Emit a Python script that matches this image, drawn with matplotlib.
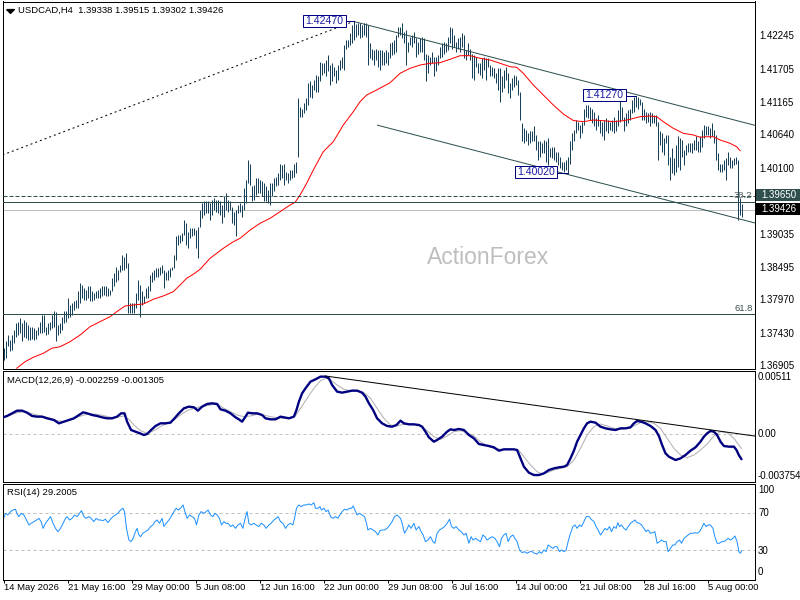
import matplotlib
matplotlib.use("Agg")
import matplotlib.pyplot as plt
from matplotlib.patches import Rectangle
from matplotlib import transforms

# ---------------- data ----------------
highs = [
    1.3718, 1.3729, 1.3740, 1.3732, 1.3740, 1.3748, 1.3759, 1.3761, 1.3767, 1.3759,
    1.3764, 1.3761, 1.3756, 1.3753, 1.3753, 1.3751, 1.3748, 1.3753, 1.3761, 1.3772,
    1.3772, 1.3753, 1.3759, 1.3761, 1.3772, 1.3778, 1.3776, 1.3756, 1.3759, 1.3769,
    1.3778, 1.3778, 1.3799, 1.3788, 1.3791, 1.3794, 1.3796, 1.3810, 1.3823, 1.3821,
    1.3815, 1.3813, 1.3818, 1.3818, 1.3810, 1.3807, 1.3810, 1.3813, 1.3815, 1.3818,
    1.3818, 1.3818, 1.3815, 1.3813, 1.3831, 1.3840, 1.3850, 1.3845, 1.3853, 1.3869,
    1.3866, 1.3872, 1.3856, 1.3791, 1.3791, 1.3791, 1.3807, 1.3829, 1.3821, 1.3810,
    1.3802, 1.3815, 1.3818, 1.3837, 1.3842, 1.3845, 1.3848, 1.3848, 1.3849, 1.3853,
    1.3845, 1.3842, 1.3845, 1.3848, 1.3850, 1.3869, 1.3899, 1.3902, 1.3902, 1.3904,
    1.3926, 1.3920, 1.3907, 1.3912, 1.3912, 1.3912, 1.3910, 1.3915, 1.3942, 1.3953,
    1.3956, 1.3956, 1.3956, 1.3953, 1.3958, 1.3961, 1.3958, 1.3958, 1.3956, 1.3950,
    1.3964, 1.3969, 1.3958, 1.3956, 1.3947, 1.3939, 1.3942, 1.3950, 1.3953, 1.3950,
    1.3977, 1.3990, 1.4023, 1.4017, 1.3980, 1.3982, 1.3993, 1.3993, 1.3990, 1.3988,
    1.3985, 1.3980, 1.3974, 1.3985, 1.3985, 1.3993, 1.3996, 1.4001, 1.4017, 1.4015,
    1.4017, 1.4004, 1.4001, 1.4007, 1.4007, 1.4017, 1.4020, 1.4123, 1.4109, 1.4106,
    1.4115, 1.4123, 1.4147, 1.4150, 1.4144, 1.4152, 1.4160, 1.4158, 1.4182, 1.4179,
    1.4179, 1.4185, 1.4193, 1.4177, 1.4179, 1.4174, 1.4168, 1.4177, 1.4185, 1.4190,
    1.4209, 1.4217, 1.4217, 1.4228, 1.4241, 1.4247, 1.4243, 1.4244, 1.4244, 1.4241,
    1.4244, 1.4245, 1.4241, 1.4212, 1.4203, 1.4201, 1.4203, 1.4201, 1.4201, 1.4201,
    1.4198, 1.4201, 1.4198, 1.4212, 1.4214, 1.4217, 1.4225, 1.4238, 1.4238, 1.4245,
    1.4230, 1.4233, 1.4214, 1.4222, 1.4225, 1.4230, 1.4220, 1.4214, 1.4220, 1.4222,
    1.4220, 1.4195, 1.4193, 1.4190, 1.4198, 1.4190, 1.4190, 1.4193, 1.4206, 1.4212,
    1.4214, 1.4212, 1.4222, 1.4238, 1.4236, 1.4225, 1.4214, 1.4220, 1.4222, 1.4228,
    1.4225, 1.4201, 1.4212, 1.4203, 1.4195, 1.4193, 1.4190, 1.4179, 1.4179, 1.4187,
    1.4190, 1.4187, 1.4187, 1.4177, 1.4174, 1.4171, 1.4163, 1.4171, 1.4171, 1.4158,
    1.4168, 1.4174, 1.4163, 1.4147, 1.4155, 1.4160, 1.4158, 1.4152, 1.4133, 1.4082,
    1.4074, 1.4071, 1.4066, 1.4069, 1.4069, 1.4077, 1.4063, 1.4053, 1.4053, 1.4050,
    1.4055, 1.4053, 1.4058, 1.4042, 1.4044, 1.4044, 1.4036, 1.4036, 1.4028, 1.4020,
    1.4020, 1.4023, 1.4028, 1.4053, 1.4066, 1.4071, 1.4088, 1.4085, 1.4079, 1.4085,
    1.4106, 1.4112, 1.4112, 1.4109, 1.4106, 1.4101, 1.4090, 1.4096, 1.4088, 1.4085,
    1.4088, 1.4090, 1.4088, 1.4085, 1.4088, 1.4093, 1.4088, 1.4104, 1.4123, 1.4109,
    1.4093, 1.4098, 1.4104, 1.4106, 1.4120, 1.4124, 1.4127, 1.4125, 1.4122, 1.4117,
    1.4106, 1.4101, 1.4098, 1.4101, 1.4098, 1.4096, 1.4096, 1.4085, 1.4069, 1.4066,
    1.4058, 1.4063, 1.4063, 1.4028, 1.4042, 1.4026, 1.4047, 1.4061, 1.4058, 1.4055,
    1.4039, 1.4047, 1.4050, 1.4050, 1.4050, 1.4055, 1.4061, 1.4053, 1.4061, 1.4071,
    1.4079, 1.4077, 1.4077, 1.4074, 1.4082, 1.4071, 1.4063, 1.4034, 1.4017, 1.4017,
    1.4023, 1.4026, 1.4036, 1.4028, 1.4023, 1.4026, 1.4028, 1.4023, 1.3961, 1.39515,
]
lows = [
    1.3699, 1.3702, 1.3721, 1.3713, 1.3716, 1.3726, 1.3737, 1.3740, 1.3742, 1.3729,
    1.3737, 1.3734, 1.3732, 1.3732, 1.3733, 1.3732, 1.3733, 1.3740, 1.3742, 1.3742,
    1.3745, 1.3740, 1.3741, 1.3748, 1.3751, 1.3753, 1.3729, 1.3740, 1.3742, 1.3748,
    1.3759, 1.3761, 1.3767, 1.3769, 1.3772, 1.3780, 1.3783, 1.3783, 1.3791, 1.3799,
    1.3796, 1.3796, 1.3799, 1.3794, 1.3794, 1.3796, 1.3799, 1.3799, 1.3799, 1.3802,
    1.3804, 1.3802, 1.3802, 1.3804, 1.3810, 1.3818, 1.3826, 1.3829, 1.3842, 1.3845,
    1.3845, 1.3848, 1.3775, 1.3775, 1.3775, 1.3775, 1.3783, 1.3796, 1.3769, 1.3788,
    1.3791, 1.3799, 1.3799, 1.3810, 1.3826, 1.3829, 1.3834, 1.3834, 1.3837, 1.3840,
    1.3815, 1.3829, 1.3829, 1.3834, 1.3845, 1.3848, 1.3861, 1.3885, 1.3888, 1.3891,
    1.3902, 1.3885, 1.3880, 1.3896, 1.3899, 1.3902, 1.3880, 1.3864, 1.3914, 1.3929,
    1.3934, 1.3937, 1.3937, 1.3926, 1.3934, 1.3942, 1.3939, 1.3937, 1.3934, 1.3920,
    1.3931, 1.3942, 1.3939, 1.3942, 1.3920, 1.3918, 1.3899, 1.3937, 1.3939, 1.3931,
    1.3942, 1.3953, 1.3985, 1.3982, 1.3956, 1.3958, 1.3966, 1.3969, 1.3969, 1.3964,
    1.3956, 1.3956, 1.3953, 1.3950, 1.3964, 1.3972, 1.3980, 1.3982, 1.3990, 1.3993,
    1.3982, 1.3990, 1.3985, 1.3990, 1.3993, 1.3996, 1.4001, 1.4028, 1.4093, 1.4093,
    1.4098, 1.4104, 1.4112, 1.4125, 1.4123, 1.4136, 1.4133, 1.4133, 1.4150, 1.4160,
    1.4163, 1.4158, 1.4166, 1.4144, 1.4150, 1.4158, 1.4147, 1.4152, 1.4168, 1.4171,
    1.4168, 1.4203, 1.4206, 1.4209, 1.4212, 1.4217, 1.4222, 1.4225, 1.4220, 1.4222,
    1.4225, 1.4222, 1.4177, 1.4187, 1.4185, 1.4177, 1.4185, 1.4174, 1.4168, 1.4177,
    1.4177, 1.4179, 1.4177, 1.4187, 1.4193, 1.4195, 1.4198, 1.4222, 1.4225, 1.4220,
    1.4212, 1.4177, 1.4198, 1.4209, 1.4206, 1.4212, 1.4190, 1.4195, 1.4198, 1.4198,
    1.4185, 1.4150, 1.4163, 1.4177, 1.4179, 1.4158, 1.4166, 1.4177, 1.4187, 1.4190,
    1.4195, 1.4198, 1.4201, 1.4212, 1.4203, 1.4206, 1.4198, 1.4203, 1.4198, 1.4206,
    1.4187, 1.4185, 1.4193, 1.4185, 1.4155, 1.4152, 1.4174, 1.4163, 1.4160, 1.4155,
    1.4168, 1.4152, 1.4174, 1.4158, 1.4158, 1.4155, 1.4147, 1.4136, 1.4117, 1.4133,
    1.4139, 1.4152, 1.4131, 1.4123, 1.4136, 1.4141, 1.4144, 1.4128, 1.4088, 1.4053,
    1.4050, 1.4053, 1.4047, 1.4050, 1.4053, 1.4053, 1.4039, 1.4023, 1.4028, 1.4034,
    1.4034, 1.4020, 1.4015, 1.4028, 1.4026, 1.4023, 1.4020, 1.4015, 1.4009, 1.4007,
    1.4004, 1.4007, 1.4002, 1.4017, 1.4039, 1.4053, 1.4066, 1.4071, 1.4058, 1.4066,
    1.4079, 1.4093, 1.4090, 1.4088, 1.4082, 1.4077, 1.4071, 1.4077, 1.4066, 1.4061,
    1.4055, 1.4069, 1.4066, 1.4071, 1.4069, 1.4066, 1.4069, 1.4077, 1.4085, 1.4088,
    1.4069, 1.4077, 1.4082, 1.4088, 1.4098, 1.4101, 1.4109, 1.4106, 1.4112, 1.4088,
    1.4088, 1.4082, 1.4085, 1.4077, 1.4082, 1.4082, 1.4077, 1.4023, 1.4047, 1.4036,
    1.4031, 1.4050, 1.4015, 1.3990, 1.4001, 1.3999, 1.4004, 1.4012, 1.4007, 1.4028,
    1.4015, 1.4031, 1.4036, 1.4036, 1.4034, 1.4039, 1.4039, 1.4036, 1.4036, 1.4044,
    1.4058, 1.4063, 1.4063, 1.4058, 1.4061, 1.4050, 1.4023, 1.4007, 1.4004, 1.4004,
    1.4007, 1.3990, 1.4015, 1.4009, 1.4009, 1.4015, 1.4017, 1.3926, 1.3934, 1.39302,
]

ma_idx = [6.6, 10.8, 14.9, 19.9, 24.1, 28.3, 33.3, 38.3, 43.3, 48.3,
          53.3, 56.6, 60.8, 64.9, 69.9, 74.9, 79.9, 84.9, 88.3, 91.6,
          94.9, 98.3, 103.3, 109.9, 114.9, 118.3, 123.3, 128.3, 133.3, 138.3,
          143.3, 145.8, 148.3, 151.6, 154.9, 159.9, 164.9, 169.9, 174.9, 178.3,
          181.6, 186.6, 193.3, 198.3, 203.3, 208.3, 213.3, 218.3, 223.3, 228.3,
          233.3, 238.3, 243.3, 248.3, 253.3, 256.6, 259.9, 264.9, 269.9, 274.9,
          279.9, 284.9, 289.9, 294.9, 299.9, 304.9, 309.9, 313.3, 318.3, 323.3,
          326.6, 329.9, 334.9, 339.9, 344.9, 348.3, 351.6, 354.9, 358.3, 363.3,
          366.6, 368.3]
ma_val = [1.36857, 1.36963, 1.37035, 1.37099, 1.37180, 1.37206, 1.37287, 1.37395, 1.37530, 1.37611,
          1.37692, 1.37772, 1.37865, 1.37881, 1.37897, 1.37973, 1.38027, 1.38096, 1.38205, 1.38313,
          1.38378, 1.38459, 1.38637, 1.38798, 1.38905, 1.38960, 1.39094, 1.39203, 1.39284, 1.39391,
          1.39499, 1.39543, 1.39661, 1.39850, 1.40065, 1.40362, 1.40523, 1.40794, 1.41009, 1.41171,
          1.41279, 1.41360, 1.41478, 1.41630, 1.41711, 1.41764, 1.41792, 1.41802, 1.41857, 1.41915,
          1.41915, 1.41873, 1.41845, 1.41792, 1.41737, 1.41727, 1.41630, 1.41441, 1.41279, 1.41117,
          1.40972, 1.40866, 1.40847, 1.40874, 1.40863, 1.40847, 1.40863, 1.40886, 1.40928, 1.40939,
          1.40928, 1.40847, 1.40740, 1.40659, 1.40632, 1.40595, 1.40604, 1.40604, 1.40551, 1.40497,
          1.40442, 1.40378]

macd_idx = [-0.2, 1.8, 4.3, 6.8, 9.3, 11.8, 14.3, 16.8, 19.3, 21.8,
            25.2, 27.7, 30.2, 32.7, 35.2, 37.7, 39.8, 41.8, 44.3, 46.8,
            49.3, 51.8, 54.3, 56.8, 58.8, 60.5, 61.8, 63.8, 66.0, 68.2,
            70.2, 71.8, 73.8, 76.0, 78.5, 81.0, 83.5, 85.5, 87.7, 90.2,
            92.7, 95.2, 97.2, 99.3, 101.8, 104.3, 106.8, 108.5, 111.0, 113.5,
            116.0, 117.7, 119.3, 121.0, 122.2, 124.3, 126.8, 129.3, 131.0, 133.5,
            136.0, 138.5, 140.2, 142.7, 145.2, 146.5, 147.7, 149.3, 151.0, 153.5,
            156.0, 158.5, 161.0, 162.7, 164.3, 166.8, 169.3, 171.8, 174.3, 176.8,
            179.3, 181.0, 182.7, 184.8, 186.8, 189.3, 191.8, 194.3, 196.5, 198.5,
            200.2, 202.7, 205.2, 207.7, 209.3, 211.0, 212.7, 215.2, 216.8, 219.3,
            221.8, 223.5, 225.2, 227.7, 230.2, 232.7, 235.2, 237.7, 240.2, 242.7,
            245.2, 247.7, 250.2, 252.7, 255.2, 256.8, 258.5, 260.2, 262.7, 265.2,
            267.7, 270.2, 272.7, 275.2, 277.7, 280.2, 281.8, 283.5, 285.2, 286.8,
            288.5, 290.2, 291.8, 293.5, 296.0, 298.5, 301.0, 303.5, 306.0, 308.5,
            311.0, 313.5, 315.2, 316.8, 318.8, 321.0, 323.5, 326.0, 327.7, 329.3,
            331.0, 332.7, 334.3, 336.0, 338.5, 341.0, 343.5, 346.0, 348.5, 350.2,
            351.8, 353.5, 355.2, 356.8, 358.5, 360.2, 362.7, 365.2, 366.5, 367.7,
            369.0]
macd_val = [0.001495, 0.001615, 0.001854, 0.002093, 0.002093, 0.001914, 0.001615, 0.001555, 0.001555, 0.001405,
            0.001256, 0.000957, 0.001106, 0.001256, 0.001405, 0.001704, 0.001944, 0.001854, 0.001704, 0.001615,
            0.001495, 0.001405, 0.001405, 0.001555, 0.001854, 0.001854, 0.001106, 0.000359, 0.000209, 0.00006,
            -0.00009, 0.0, 0.000359, 0.000718, 0.000957, 0.000957, 0.001017, 0.001405, 0.001854, 0.002302,
            0.002452, 0.002392, 0.002093, 0.002452, 0.002691, 0.002751, 0.002691, 0.002213, 0.002093, 0.001854,
            0.001495, 0.001316, 0.001106, 0.001555, 0.001914, 0.001854, 0.001854, 0.001704, 0.001405, 0.001316,
            0.001316, 0.001555, 0.001495, 0.001405, 0.001555, 0.002153, 0.0029, 0.003648, 0.004096, 0.004694,
            0.004904, 0.005143, 0.005143, 0.004993, 0.004395, 0.003797, 0.003708, 0.003797, 0.003887, 0.003887,
            0.003708, 0.003349, 0.002751, 0.002153, 0.001405, 0.000957, 0.000718, 0.000658, 0.000807, 0.001196,
            0.000957, 0.000867, 0.000867, 0.000807, 0.000658, 0.000209, -0.000299, -0.000688, -0.000538, -0.000239,
            0.000209, 0.000419, 0.000359, 0.000449, 0.000359, -0.00009, -0.000389, -0.000897, -0.000987, -0.001076,
            -0.001196, -0.001495, -0.001375, -0.001375, -0.001375, -0.001435, -0.002183, -0.00293, -0.003468, -0.003678,
            -0.003678, -0.003528, -0.003229, -0.00308, -0.00299, -0.00293, -0.002781, -0.002183, -0.001495, -0.000688,
            -0.00009, 0.000508, 0.000957, 0.001106, 0.001017, 0.000658, 0.000508, 0.000419, 0.000359, 0.000508,
            0.000508, 0.000598, 0.000957, 0.001166, 0.001106, 0.000957, 0.000718, 0.000359, -0.000179, -0.000987,
            -0.001734, -0.002033, -0.002183, -0.002332, -0.002183, -0.001884, -0.001495, -0.001196, -0.000688, -0.000239,
            0.00006, 0.000269, 0.000209, -0.00009, -0.000688, -0.001076, -0.001136, -0.001136, -0.001435, -0.0019,
            -0.002259]

sig_idx = [-0.2, 3.5, 6.8, 10.2, 13.5, 16.8, 20.2, 23.5, 26.8, 30.2,
           33.5, 36.8, 40.2, 43.5, 46.8, 50.2, 53.5, 56.8, 60.2, 62.7,
           65.2, 68.5, 71.8, 75.2, 78.5, 81.8, 85.2, 88.5, 91.8, 95.2,
           98.5, 101.8, 105.2, 107.7, 110.2, 113.5, 116.8, 120.2, 123.5, 126.8,
           130.2, 133.5, 136.8, 140.2, 143.5, 146.0, 148.5, 151.8, 155.2, 158.5,
           161.0, 163.5, 166.8, 170.2, 173.5, 176.8, 180.2, 183.5, 186.8, 190.2,
           193.5, 196.8, 198.5, 201.8, 205.2, 208.5, 211.8, 215.2, 218.5, 221.8,
           225.2, 228.5, 231.8, 235.2, 238.5, 241.8, 245.2, 248.5, 251.8, 255.2,
           257.7, 260.2, 263.5, 266.8, 269.3, 271.8, 275.2, 278.5, 281.8, 285.2,
           288.5, 291.8, 295.2, 298.5, 301.8, 305.2, 308.5, 311.8, 315.2, 318.5,
           321.8, 325.2, 328.5, 331.8, 335.2, 338.5, 341.8, 345.2, 348.5, 351.8,
           355.2, 358.5, 361.8, 365.2, 367.7, 369.0]
sig_val = [0.001495, 0.001704, 0.001914, 0.002003, 0.001854, 0.001704, 0.001555, 0.001405, 0.001196, 0.001106,
           0.001256, 0.001495, 0.001704, 0.001794, 0.001764, 0.001645, 0.001495, 0.001495, 0.001615, 0.001316,
           0.000807, 0.000299, 0.00006, 0.000299, 0.000658, 0.000957, 0.001256, 0.001704, 0.002093, 0.002302,
           0.002452, 0.002542, 0.002661, 0.002601, 0.002302, 0.002003, 0.001704, 0.001555, 0.001615, 0.001764,
           0.001704, 0.001555, 0.001465, 0.001405, 0.001405, 0.001615, 0.002302, 0.003199, 0.004096, 0.004784,
           0.004993, 0.004844, 0.004395, 0.004007, 0.003887, 0.003857, 0.003708, 0.003199, 0.002302, 0.001405,
           0.000807, 0.000718, 0.000807, 0.000897, 0.000867, 0.000718, 0.000299, -0.000239, -0.000478, -0.000179,
           0.000209, 0.000299, 0.00012, -0.000179, -0.000688, -0.001076, -0.001286, -0.001375, -0.001375, -0.001375,
           -0.001495, -0.002033, -0.002781, -0.003379, -0.003588, -0.003468, -0.003229, -0.00308, -0.00293, -0.002332,
           -0.001286, -0.00009, 0.000658, 0.000897, 0.000718, 0.000508, 0.000449, 0.000508, 0.000718, 0.001017,
           0.001106, 0.000957, 0.000508, -0.000389, -0.001286, -0.001884, -0.002123, -0.001884, -0.001435, -0.000897,
           -0.000179, 0.000209, 0.00012, -0.000389, -0.000987, -0.001305]

rsi_points = [
    (-0.2, 62.7), (1.0, 70.0), (2.2, 68.2), (3.5, 71.8), (4.8, 73.6), (6.0, 74.4), (6.8, 69.3), (7.7, 66.4), (8.8, 70.0), (10.2, 68.2),
    (11.5, 62.7), (12.7, 57.3), (13.8, 59.1), (15.2, 60.9), (16.5, 62.7), (17.7, 64.5), (18.8, 60.9), (19.8, 53.6), (21.0, 59.1), (22.2, 62.7),
    (23.5, 66.4), (24.8, 59.1), (26.0, 53.6), (27.2, 50.0), (28.5, 53.6), (29.8, 59.1), (31.0, 64.5), (31.8, 66.4), (33.0, 62.7), (34.3, 64.5),
    (35.5, 68.2), (36.8, 66.4), (38.0, 70.0), (39.0, 72.9), (40.2, 66.4), (41.3, 64.5), (42.7, 66.4), (43.8, 64.5), (45.2, 60.9), (46.3, 64.5),
    (47.5, 62.7), (48.5, 62.7), (49.7, 62.0), (51.0, 63.5), (52.2, 59.8), (53.5, 63.5), (54.7, 66.4), (56.0, 68.2), (57.2, 70.0), (58.5, 73.6),
    (59.7, 75.5), (60.5, 71.8), (61.5, 53.6), (62.7, 40.9), (63.8, 39.1), (64.8, 42.7), (66.0, 50.0), (66.8, 53.6), (67.7, 46.4), (68.5, 44.5),
    (69.7, 48.2), (71.0, 50.0), (72.2, 51.8), (73.5, 55.5), (74.7, 57.3), (75.7, 60.9), (76.8, 62.7), (78.0, 59.1), (79.3, 64.5), (80.2, 55.5),
    (81.3, 59.1), (82.7, 62.7), (83.8, 66.4), (85.2, 71.8), (86.3, 75.5), (87.3, 73.6), (88.5, 75.5), (89.8, 79.1), (90.7, 71.8), (91.8, 64.5),
    (93.0, 68.2), (94.3, 66.4), (95.5, 64.5), (96.5, 57.3), (97.7, 68.2), (98.8, 71.8), (100.2, 70.0), (101.3, 71.8), (102.3, 73.6), (103.5, 68.2),
    (104.7, 66.4), (105.7, 70.0), (106.8, 68.2), (108.0, 64.5), (109.0, 57.3), (110.2, 60.9), (111.3, 59.1), (112.3, 59.1), (113.5, 55.5), (114.7, 57.3),
    (116.0, 53.6), (117.2, 57.3), (118.5, 59.1), (119.7, 53.6), (120.8, 64.5), (121.8, 71.8), (122.7, 59.1), (123.8, 57.3), (125.2, 59.1), (126.3, 57.3),
    (127.7, 55.5), (128.8, 59.1), (130.2, 57.3), (131.3, 53.6), (132.7, 57.3), (133.8, 59.1), (135.2, 62.7), (136.3, 64.5), (137.3, 66.4), (138.5, 60.9),
    (139.7, 59.1), (141.0, 53.6), (142.2, 57.3), (143.5, 59.1), (144.7, 57.3), (145.5, 64.5), (146.5, 75.5), (147.7, 79.1), (148.8, 77.3), (150.2, 79.1),
    (151.3, 79.1), (152.7, 80.2), (153.8, 79.1), (155.2, 81.6), (156.0, 75.5), (157.2, 75.5), (158.2, 77.3), (159.0, 73.6), (160.2, 75.5), (161.3, 71.8),
    (162.3, 73.6), (163.5, 66.4), (164.7, 64.5), (166.0, 66.4), (167.2, 64.5), (168.2, 68.2), (169.3, 71.8), (170.5, 74.4), (171.8, 73.6), (173.0, 75.5),
    (174.0, 75.5), (174.8, 78.0), (175.7, 73.6), (176.8, 68.2), (178.0, 70.0), (179.3, 68.2), (180.5, 66.4), (181.5, 59.1), (182.2, 51.8), (183.5, 53.6),
    (184.8, 51.8), (186.0, 50.0), (187.2, 46.4), (188.2, 51.1), (189.3, 51.8), (190.5, 51.8), (191.8, 53.6), (193.2, 57.3), (194.3, 60.9), (195.5, 66.4),
    (196.8, 68.2), (198.5, 64.5), (199.3, 59.1), (200.5, 48.2), (201.5, 51.8), (202.7, 57.3), (203.8, 53.6), (205.2, 59.1), (206.3, 51.8), (207.7, 55.5),
    (208.8, 50.0), (209.8, 46.4), (211.0, 39.1), (212.2, 40.9), (213.5, 44.5), (214.7, 39.1), (215.7, 37.3), (216.8, 48.2), (218.0, 51.8), (219.3, 53.6),
    (220.5, 55.5), (221.8, 59.1), (223.0, 63.5), (224.0, 55.5), (225.2, 53.6), (226.3, 55.5), (227.7, 51.8), (228.8, 50.0), (230.2, 46.4), (231.3, 48.2),
    (232.7, 37.3), (233.8, 44.5), (234.8, 40.9), (236.0, 42.7), (237.2, 40.9), (238.5, 39.1), (239.7, 46.4), (240.7, 44.5), (241.8, 40.9), (243.0, 42.7),
    (244.3, 44.5), (245.7, 42.7), (246.8, 39.1), (248.0, 33.6), (249.0, 42.7), (250.2, 46.4), (251.3, 48.2), (252.3, 39.1), (253.5, 44.5), (254.7, 46.4),
    (255.7, 42.7), (256.8, 39.1), (258.0, 30.0), (259.3, 27.1), (260.5, 28.2), (261.8, 26.4), (263.2, 28.2), (264.3, 28.2), (265.5, 26.4), (266.8, 25.6),
    (268.0, 28.2), (269.0, 26.4), (270.2, 30.0), (271.3, 28.2), (272.3, 35.5), (273.5, 33.6), (274.7, 31.8), (275.7, 33.6), (276.8, 33.6), (278.0, 28.2),
    (279.0, 30.0), (280.2, 28.2), (281.3, 30.0), (282.3, 39.1), (283.5, 48.2), (284.7, 55.5), (285.7, 57.3), (286.8, 53.6), (288.0, 57.3), (289.0, 55.5),
    (290.2, 60.9), (291.3, 66.4), (292.7, 66.4), (293.8, 63.5), (295.2, 60.9), (296.3, 55.5), (297.3, 51.8), (298.5, 46.4), (299.7, 50.0), (300.7, 53.6),
    (301.8, 51.8), (303.0, 55.5), (304.0, 50.0), (305.2, 55.5), (306.3, 53.6), (307.2, 59.8), (308.0, 55.5), (309.0, 57.3), (310.2, 53.6), (311.3, 51.8),
    (312.3, 55.5), (313.5, 59.1), (314.7, 60.9), (315.7, 62.7), (316.8, 59.8), (318.0, 59.1), (319.0, 57.3), (320.2, 53.6), (321.3, 50.0), (322.3, 51.8),
    (323.5, 48.2), (324.7, 48.9), (325.7, 50.0), (326.8, 37.3), (328.0, 39.1), (329.0, 40.9), (330.2, 39.1), (331.3, 39.1), (332.3, 28.2), (333.5, 31.8),
    (334.7, 35.5), (335.7, 35.5), (336.8, 39.1), (338.0, 40.9), (339.0, 37.3), (340.2, 42.7), (341.3, 44.5), (342.3, 46.4), (343.5, 48.2), (344.7, 48.2),
    (345.7, 48.9), (346.8, 48.2), (348.0, 50.0), (349.0, 53.6), (350.2, 59.1), (351.3, 55.5), (352.3, 57.3), (353.5, 57.3), (354.7, 53.6), (355.7, 44.5),
    (356.8, 37.3), (358.0, 37.3), (359.0, 39.1), (360.2, 39.1), (361.3, 40.9), (362.3, 42.7), (363.5, 40.9), (364.7, 42.7), (365.7, 45.3), (366.8, 39.1),
    (367.7, 28.2), (368.5, 26.4), (369.0, 29.2),
]

price_ticks = [1.42245, 1.41705, 1.41165, 1.40640, 1.40100, 1.39035, 1.38495, 1.37970, 1.37430, 1.36905]
date_idx = [0, 32, 64, 96, 128, 160, 192, 224, 256, 288, 320, 352]
date_labels = ["14 May 2026", "21 May 16:00", "29 May 00:00", "5 Jun 08:00", "12 Jun 16:00",
               "22 Jun 00:00", "29 Jun 08:00", "6 Jul 16:00", "14 Jul 00:00", "21 Jul 08:00",
               "28 Jul 16:00", "5 Aug 00:00"]
macd_labels = [(0.00511, "0.00511"), (0.0, "0.00"), (-0.003754, "-0.003754")]
rsi_levels = [100, 70, 30, 0]
title = "USDCAD,H4  1.39338 1.39515 1.39302 1.39426"
# ------------------------------------------------------------------

FONT = ['Liberation Sans', 'DejaVu Sans']
plt.rcParams['font.family'] = FONT
FS = 6.8
BAR = '#17415A'
SLATE = '#2F4F4F'
PX = 0.72  # one pixel in points at dpi 100

W, H = 800, 600
fig = plt.figure(figsize=(8, 6), dpi=100)
fig.patch.set_facecolor('white')


def rect(x0, y0, x1, y1):
    return [x0 / W, 1 - y1 / H, (x1 - x0) / W, (y1 - y0) / H]


XL, XR = 2.5, 754.5
ax = fig.add_axes(rect(XL, 1.5, XR, 368.5))
axm = fig.add_axes(rect(XL, 370.5, XR, 481.5))
axr = fig.add_axes(rect(XL, 483.5, XR, 579.5))

for a in (ax, axm, axr):
    a.set_xlim(-0.5, 375.5)
    a.set_facecolor('white')
    for s in a.spines.values():
        s.set_linewidth(PX)
        s.set_color('black')

ax.set_ylim(1.36853, 1.42792)
axm.set_ylim(-0.004258, 0.005693)
axr.set_ylim(-2.17, 102.5)

# ---------------- main price panel ----------------
idx = list(range(len(highs)))
ax.vlines(idx, lows, highs, colors=BAR, linewidth=PX, zorder=2)
ax.plot(ma_idx, ma_val, color='#FF0000', lw=PX, zorder=3)

ax.text(242.5, 1.3865, 'ActionForex', color='#BEBEBE', fontsize=16.5,
        ha='center', va='center', zorder=0.5)

# trend / channel lines
ax.plot([-0.5, 175], [1.40308, 1.4247], color='black', lw=PX,
        linestyle=(0, (2, 3)), zorder=3)
ax.plot([175, 375.5], [1.4247, 1.4079], color=SLATE, lw=PX, zorder=3)
ax.plot([187, 375.5], [1.4079, 1.3921], color=SLATE, lw=PX, zorder=3)

# horizontal levels
ax.axhline(1.3965, color=SLATE, lw=PX, linestyle=(0, (4, 2)), zorder=3)
ax.axhline(1.39543, color=SLATE, lw=PX, zorder=3)
ax.axhline(1.39426, color='#C0C0C0', lw=PX, zorder=1.5)
ax.axhline(1.3773, color=SLATE, lw=PX, zorder=3)

tr = transforms.blended_transform_factory(ax.transAxes, ax.transData)
ax.text(0.9973, 1.3966, '38.2', transform=tr, ha='right', va='center',
        fontsize=FS, color='#4A5A5A', zorder=4)
ax.text(0.9973, 1.37824, '61.8', transform=tr, ha='right', va='center',
        fontsize=FS, color='#3C5050', zorder=4)

# swing labels
for (x0, y0, w, h, tx, ty, s, lx0, lx1, ly) in [
        (149.75, 1.42379, 21.5, 0.00195, 160.5, 1.42476, '1.42470', 171.25, 175, 1.4247),
        (289.75, 1.41182, 21.5, 0.00194, 300.5, 1.41279, '1.41270', 311.25, 316, 1.4127),
        (255.75, 1.39936, 21.0, 0.00194, 266.25, 1.40033, '1.40020', 276.75, 282, 1.4002)]:
    ax.add_patch(Rectangle((x0, y0), w, h, facecolor='white', edgecolor='#000080',
                           lw=PX, zorder=5))
    ax.text(tx, ty, s, color='#1C1CA8', fontsize=7.6, ha='center', va='center', zorder=6)
    ax.plot([lx0, lx1], [ly, ly], color='#000080', lw=PX, zorder=5)

# title
ax.text((18 - XL) / 752, (368.5 - 10.7) / 367, title, transform=ax.transAxes,
        fontsize=FS, va='center', ha='left')
ax.plot([(9.5 - XL) / 752], [(368.5 - 11) / 367], transform=ax.transAxes,
        marker=[(-1, 0.5), (1, 0.5), (0, -0.5), (-1, 0.5)], ms=5.5,
        color='black', clip_on=False)

# right price axis
ax.yaxis.tick_right()
ax.set_yticks(price_ticks)
ax.set_yticklabels([f"{v:.5f}" for v in price_ticks])
ax.tick_params(axis='y', length=0, pad=3.4, labelsize=FS + 0.2)
ax.set_xticks([])

# right side boxed labels
ax.add_patch(Rectangle((1.002, 1.39569), 0.06, 0.00184, transform=tr,
                       facecolor=SLATE, edgecolor='none', clip_on=False, zorder=5))
ax.text(1.0093, 1.39661, '1.39650', transform=tr, color='white',
        fontsize=FS + 0.2, va='center', ha='left', zorder=6, clip_on=False)
ax.add_patch(Rectangle((1.002, 1.39337), 0.06, 0.0019, transform=tr,
                       facecolor='black', edgecolor='none', clip_on=False, zorder=5))
ax.text(1.0093, 1.39432, '1.39426', transform=tr, color='white',
        fontsize=FS + 0.2, va='center', ha='left', zorder=6, clip_on=False)

# ---------------- MACD panel ----------------
axm.axhline(0, color='#C0C0C0', lw=PX, linestyle=(0, (3, 3)), zorder=1)
axm.plot(sig_idx, sig_val, color='#B0B0B0', lw=PX, zorder=2)
axm.plot(macd_idx, macd_val, color='#000080', lw=1.7, zorder=3,
         solid_joinstyle='round', solid_capstyle='round')
axm.plot([161, 375.5], [0.0052, -0.00018], color='black', lw=PX, zorder=4)
axm.set_xticks([])
axm.set_yticks([])
axm.text((7.3 - XL) / 752, 0.914, 'MACD(12,26,9) -0.002259 -0.001305',
         transform=axm.transAxes, fontsize=FS, va='center', ha='left')
trm = transforms.blended_transform_factory(axm.transAxes, axm.transData)
for v, s in macd_labels:
    axm.annotate(s, xy=(1, v), xycoords=trm, xytext=(3.6 if v >= 0 else 2.8, 0),
                 textcoords='offset pixels', fontsize=FS + 0.2, va='center',
                 ha='left', annotation_clip=False)

# ---------------- RSI panel ----------------
rsi_idx = [p[0] for p in rsi_points]
rsi_val = [p[1] for p in rsi_points]
axr.axhline(70, color='#C0C0C0', lw=PX, linestyle=(0, (3, 3)), zorder=1)
axr.axhline(30, color='#C0C0C0', lw=PX, linestyle=(0, (3, 3)), zorder=1)
axr.plot(rsi_idx, rsi_val, color='#1E90FF', lw=PX, zorder=2)
axr.set_yticks([])
axr.text((7.3 - XL) / 752, 0.904, 'RSI(14) 29.2005', transform=axr.transAxes,
         fontsize=FS, va='center', ha='left')
trr = transforms.blended_transform_factory(axr.transAxes, axr.transData)
for v, dy in zip(rsi_levels, [-4.2, 0, -1.5, 5.2]):
    axr.annotate(str(v), xy=(1, v), xycoords=trr, xytext=(3.6, dy),
                 textcoords='offset pixels', fontsize=FS + 0.2, va='center',
                 ha='left', annotation_clip=False)

axr.set_xticks(date_idx)
axr.set_xticklabels(date_labels, ha='left', fontsize=FS)
axr.tick_params(axis='x', direction='out', length=2.2, width=PX, pad=0.6)
for lbl in axr.get_xticklabels():
    lbl.set_transform(lbl.get_transform() +
                      transforms.ScaledTranslation(0.6 / 100, 0, fig.dpi_scale_trans))

fig.savefig('out.png', dpi=100, facecolor='white')
